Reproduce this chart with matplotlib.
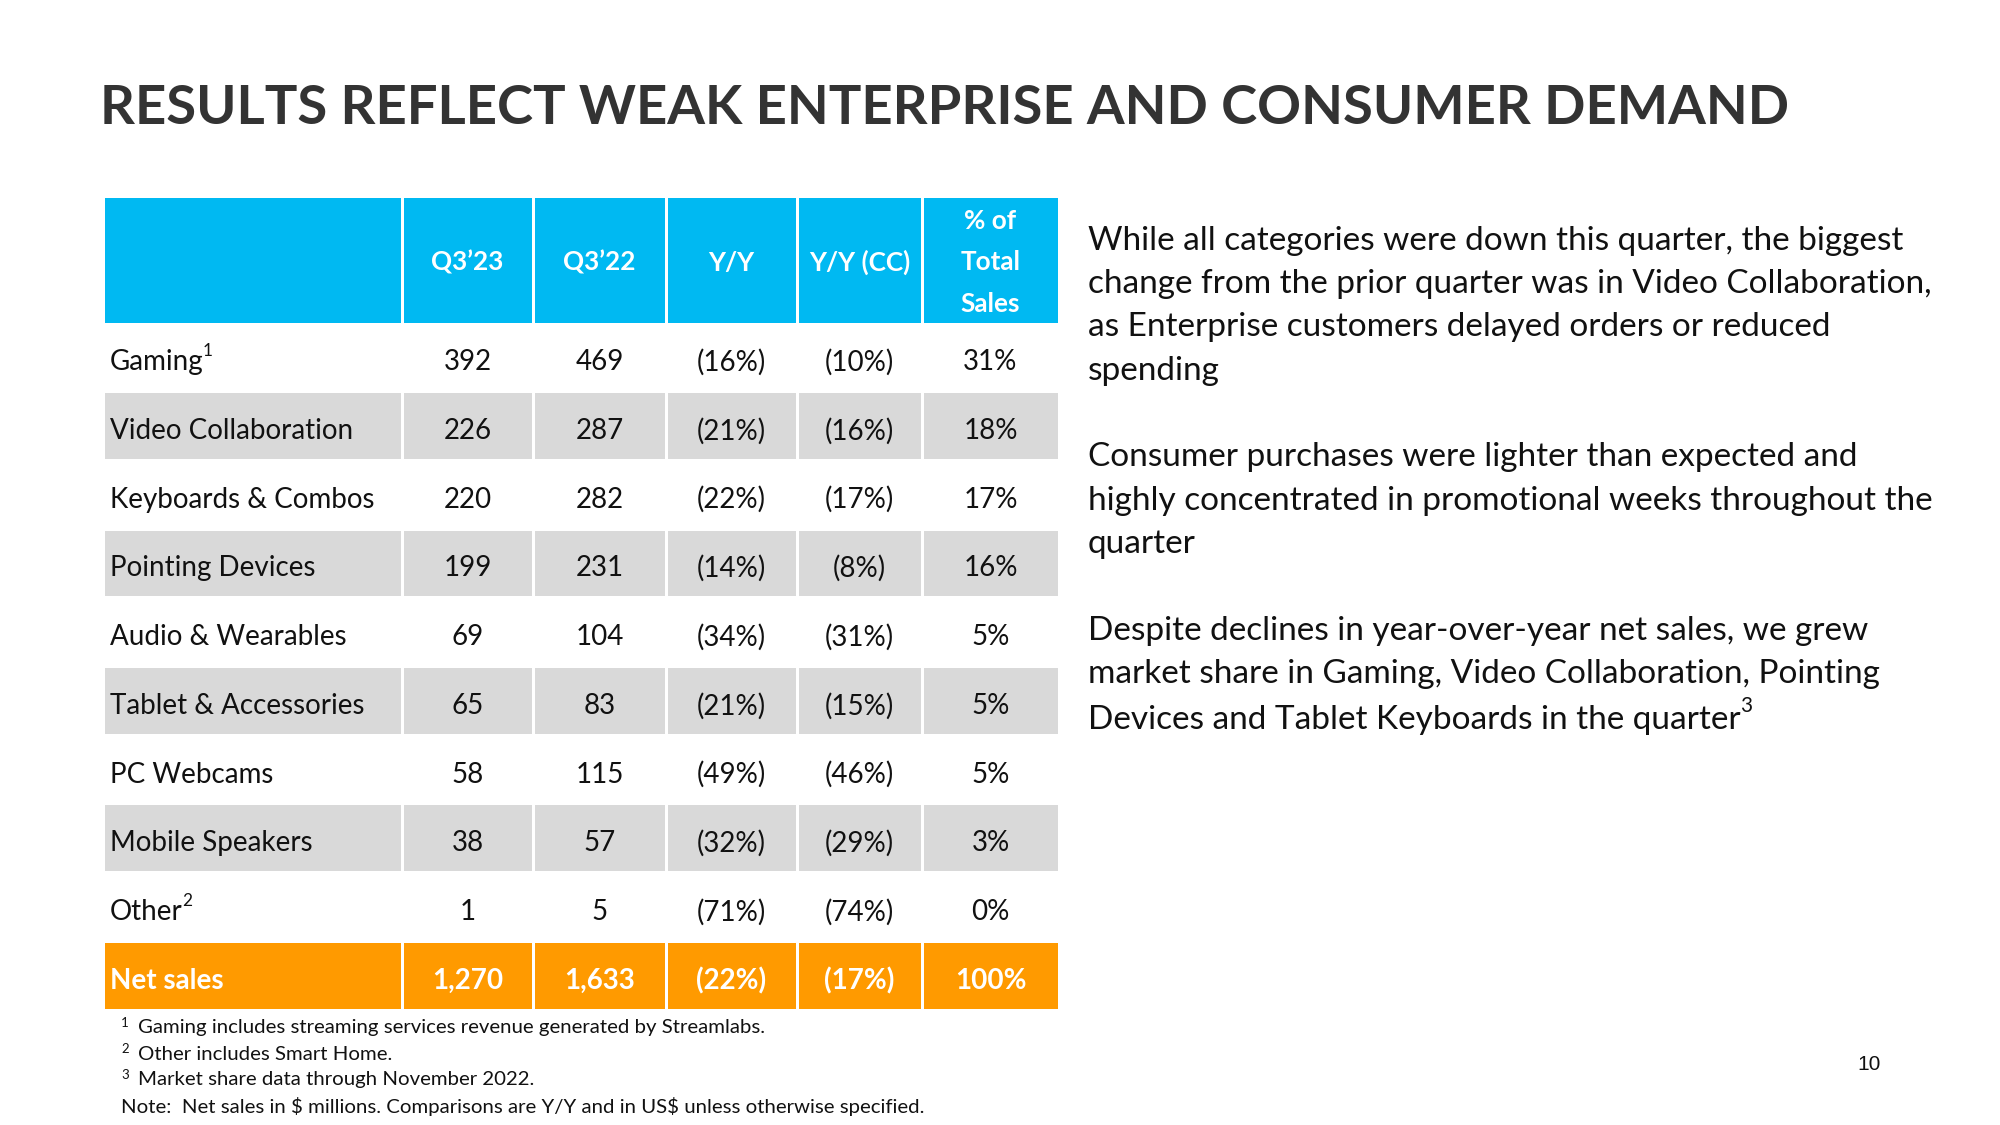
import matplotlib
matplotlib.use("Agg")
import matplotlib.pyplot as plt
from matplotlib.patches import Rectangle

# ---------------- data ----------------
title = "RESULTS REFLECT WEAK ENTERPRISE AND CONSUMER DEMAND"
headers = ["Q3’23", "Q3’22", "Y/Y", "Y/Y (CC)", "% of\nTotal\nSales"]
categories = ["Gaming", "Video Collaboration", "Keyboards & Combos", "Pointing Devices",
              "Audio & Wearables", "Tablet & Accessories", "PC Webcams",
              "Mobile Speakers", "Other"]
category_notes = ["1", "", "", "", "", "", "", "", "2"]
q3_23 = [392, 226, 220, 199, 69, 65, 58, 38, 1]
q3_22 = [469, 287, 282, 231, 104, 83, 115, 57, 5]
yy = [-16, -21, -22, -14, -34, -21, -49, -32, -71]
yy_cc = [-10, -16, -17, -8, -31, -15, -46, -29, -74]
pct_total = [31, 18, 17, 16, 5, 5, 5, 3, 0]
total_label = "Net sales"
total_q3_23 = 1270
total_q3_22 = 1633
total_yy = -22
total_yy_cc = -17
total_pct = 100

paragraphs = [
    ["While all categories were down this quarter, the biggest",
     "change from the prior quarter was in Video Collaboration,",
     "as Enterprise customers delayed orders or reduced",
     "spending"],
    ["Consumer purchases were lighter than expected and",
     "highly concentrated in promotional weeks throughout the",
     "quarter"],
    ["Despite declines in year-over-year net sales, we grew",
     "market share in Gaming, Video Collaboration, Pointing",
     "Devices and Tablet Keyboards in the quarter"],
]
paragraph_note = "3"
footnotes = [("1", "Gaming includes streaming services revenue generated by Streamlabs."),
             ("2", "Other includes Smart Home."),
             ("3", "Market share data through November 2022."),
             ("", "Note:  Net sales in $ millions. Comparisons are Y/Y and in US$ unless otherwise specified.")]
page_number = "10"

# ---------------- style ----------------
FONT = "Lato"
CYAN = "#00B9F2"
GREY = "#D9D9D9"
ORANGE = "#FF9A00"
TITLE_C = "#333333"
TEXT_C = "#111111"

W, H = 2000, 1125
fig = plt.figure(figsize=(20, 11.25), dpi=100)
ax = fig.add_axes([0, 0, 1, 1])
ax.set_xlim(0, W)
ax.set_ylim(H, 0)
ax.axis("off")
renderer = fig.canvas.get_renderer()


def put(x, y, s, **kw):
    kw.setdefault("family", FONT)
    return ax.text(x, y, s, parse_math=False, **kw)


def text_width(s, size, weight="normal", family=FONT):
    t = put(0, 0, s, fontsize=size, fontweight=weight, family=family)
    w = t.get_window_extent(renderer).width
    t.remove()
    return w


def fit_size(s, target, weight="normal"):
    return 10 * target / text_width(s, 10, weight)


def fmt_num(v):
    return f"{v:,}"


def fmt_pct(v):
    return f"({abs(v)}%)" if v < 0 else f"{v}%"


# title
title_size = fit_size(title, 1690, "bold")
put(100, 124, title, fontsize=title_size, fontweight="bold", color=TITLE_C,
    va="baseline", ha="left")

# table geometry
col_edges = [103, 402, 533, 666, 797, 922, 1059]
head_top, head_bot = 198, 323
n_rows = len(categories) + 1
row_h = (1010 - head_bot) / n_rows
gap = 1.5

body_size = fit_size("Video Collaboration", 244)
head_size = body_size * 0.94
sup_size = body_size * 0.62

# header
for c in range(len(col_edges) - 1):
    x0, x1 = col_edges[c], col_edges[c + 1]
    ax.add_patch(Rectangle((x0 + gap, head_top), x1 - x0 - 2 * gap, head_bot - head_top,
                           facecolor=CYAN, edgecolor="none"))
for i, h in enumerate(headers):
    xc = (col_edges[i + 1] + col_edges[i + 2]) / 2
    put(xc, (head_top + head_bot) / 2 + 2, h, fontsize=head_size, fontweight="bold",
        color="white", ha="center", va="center", linespacing=1.86)

# body rows
rows = []
for i in range(len(categories)):
    rows.append((categories[i], category_notes[i],
                 [fmt_num(q3_23[i]), fmt_num(q3_22[i]), fmt_pct(yy[i]),
                  fmt_pct(yy_cc[i]), fmt_pct(pct_total[i])]))
rows.append((total_label, "", [fmt_num(total_q3_23), fmt_num(total_q3_22), fmt_pct(total_yy),
                                fmt_pct(total_yy_cc), fmt_pct(total_pct)]))

for r, (label, note, vals) in enumerate(rows):
    y0 = head_bot + r * row_h
    is_total = r == len(rows) - 1
    if is_total:
        fc = ORANGE
    elif r % 2 == 1:
        fc = GREY
    else:
        fc = None
    if fc:
        for c in range(len(col_edges) - 1):
            x0, x1 = col_edges[c], col_edges[c + 1]
            ax.add_patch(Rectangle((x0 + gap, y0 + gap), x1 - x0 - 2 * gap, row_h - 2 * gap,
                                   facecolor=fc, edgecolor="none"))
    yc = y0 + row_h / 2 + 5
    color = "white" if is_total else TEXT_C
    weight = "bold" if is_total else "normal"
    t = put(110, yc, label, fontsize=body_size, fontweight=weight, color=color,
            ha="left", va="center")
    if note:
        bb = t.get_window_extent(renderer)
        put(bb.x1 - 1, yc - body_size * 0.55, note, fontsize=sup_size, color=color,
            ha="left", va="center")
    for c, v in enumerate(vals):
        xc = (col_edges[c + 1] + col_edges[c + 2]) / 2
        put(xc, yc, v, fontsize=body_size, fontweight=weight, color=color,
            ha="center", va="center")

# right-hand commentary
right_size = fit_size(paragraphs[0][1], 847)
line_y = [[238.5, 281, 324, 368.5], [454, 497.5, 541], [627.5, 671, 717]]
last = None
for para, ys in zip(paragraphs, line_y):
    for line, y in zip(para, ys):
        last = put(1088, y + 3, line, fontsize=right_size, color=TEXT_C,
                   ha="left", va="center")
bb = last.get_window_extent(renderer)
put(bb.x1 - 1, 717 + 3 - right_size * 0.6, paragraph_note, fontsize=right_size * 0.62,
    color=TEXT_C, ha="left", va="center")

# footnotes
foot_size = fit_size(footnotes[3][1], 801)
foot_y = [1028, 1054, 1080, 1107]
for (mark, txt), y in zip(footnotes, foot_y):
    if mark:
        put(121, y - foot_size * 0.35, mark, fontsize=foot_size * 0.65, color=TEXT_C,
            ha="left", va="center")
        put(138, y, txt, fontsize=foot_size, color=TEXT_C, ha="left", va="center")
    else:
        put(121, y, txt, fontsize=foot_size, color=TEXT_C, ha="left", va="center")

# page number
put(1869, 1064, page_number, fontsize=15, color=TEXT_C, family="Liberation Sans",
    ha="center", va="center")

fig.savefig("out.png", dpi=100, facecolor="white")
